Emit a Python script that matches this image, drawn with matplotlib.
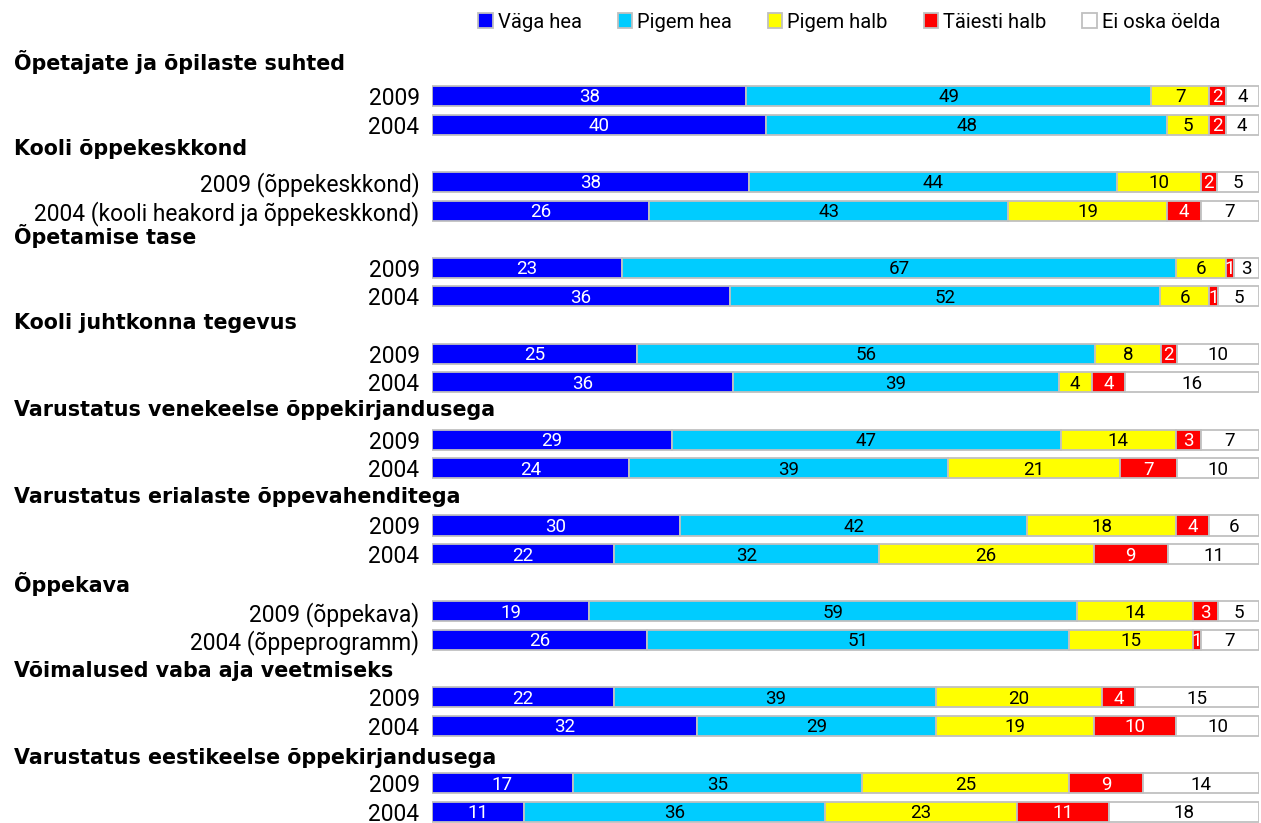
import matplotlib
matplotlib.use("Agg")
import matplotlib.pyplot as plt
import numpy as np

categories = ["Väga hea", "Pigem hea", "Pigem halb", "Täiesti halb", "Ei oska öelda"]
colors = ["#0000FF", "#00CCFF", "#FFFF00", "#FF0000", "#FFFFFF"]
text_colors = ["white", "black", "black", "white", "black"]

groups = [
    "Õpetajate ja õpilaste suhted",
    "Kooli õppekeskkond",
    "Õpetamise tase",
    "Kooli juhtkonna tegevus",
    "Varustatus venekeelse õppekirjandusega",
    "Varustatus erialaste õppevahenditega",
    "Õppekava",
    "Võimalused vaba aja veetmiseks",
    "Varustatus eestikeelse õppekirjandusega",
]
row_labels = [
    ("2009", "2004"),
    ("2009 (õppekeskkond)", "2004 (kooli heakord ja õppekeskkond)"),
    ("2009", "2004"),
    ("2009", "2004"),
    ("2009", "2004"),
    ("2009", "2004"),
    ("2009 (õppekava)", "2004 (õppeprogramm)"),
    ("2009", "2004"),
    ("2009", "2004"),
]
vals_2009 = [
    [38, 49, 7, 2, 4],
    [38, 44, 10, 2, 5],
    [23, 67, 6, 1, 3],
    [25, 56, 8, 2, 10],
    [29, 47, 14, 3, 7],
    [30, 42, 18, 4, 6],
    [19, 59, 14, 3, 5],
    [22, 39, 20, 4, 15],
    [17, 35, 25, 9, 14],
]
vals_2004 = [
    [40, 48, 5, 2, 4],
    [26, 43, 19, 4, 7],
    [36, 52, 6, 1, 5],
    [36, 39, 4, 4, 16],
    [24, 39, 21, 7, 10],
    [22, 32, 26, 9, 11],
    [26, 51, 15, 1, 7],
    [32, 29, 19, 10, 10],
    [11, 36, 23, 11, 18],
]

font = ["Roboto", "DejaVu Sans"]

W, H = 1261, 823
fig = plt.figure(figsize=(W / 100, H / 100), dpi=100)
ax_left = 432 / W
ax_w = (1259 - 432) / W
ax = fig.add_axes([ax_left, 0, ax_w, 1])

y_positions = []
labels = []
data = []
for g in range(len(groups)):
    base = 3 * g
    for k, v in enumerate((vals_2009[g], vals_2004[g])):
        y_positions.append(base + 1 + k)
        labels.append(row_labels[g][k])
        data.append(v)

raw = np.array(data)
data = raw / raw.sum(axis=1, keepdims=True) * 100

y = np.array(y_positions, dtype=float)
left = np.zeros(len(y))
handles = []
for c in range(len(categories)):
    bars = ax.barh(y, data[:, c], left=left, height=0.7, color=colors[c],
                   edgecolor="#C0C0C0", linewidth=1.3, label=categories[c])
    handles.append(bars)
    for i in range(len(y)):
        ax.text(left[i] + data[i, c] / 2, y[i] + 0.05, str(raw[i, c]),
                ha="center", va="center", color=text_colors[c],
                fontsize=13.5, family=font)
    left = left + data[:, c]

ax.set_xlim(0, 100)
top_px = 67.4
step = 28.63
ax.set_ylim((H - top_px) / step, -top_px / step)
ax.set_yticks(y)
ax.set_yticklabels(labels, fontsize=16.4, family=font)
for t in ax.get_yticklabels():
    t.set_verticalalignment("center_baseline")
ax.tick_params(axis="y", length=0, pad=9)
ax.tick_params(axis="x", bottom=False, labelbottom=False)
for s in ax.spines.values():
    s.set_visible(False)

# group headers (text boxes placed from the top of the figure)
header_top_px = 62
header_step_px = 87
for g in range(len(groups)):
    fig.text(14 / W, 1 - (header_top_px + header_step_px * g) / H, groups[g],
             ha="left", va="center", fontsize=14.9, fontweight="bold",
             family=["DejaVu Sans"])

leg = fig.legend(handles=handles, labels=categories, loc="center right",
                 bbox_to_anchor=(1228 / W, 1 - 22 / H), ncol=5, frameon=False,
                 prop={"family": font, "size": 14.5},
                 handlelength=0.7, handleheight=0.7, handletextpad=0.25,
                 columnspacing=1.8, borderaxespad=0)

fig.savefig("out.png", dpi=100)
